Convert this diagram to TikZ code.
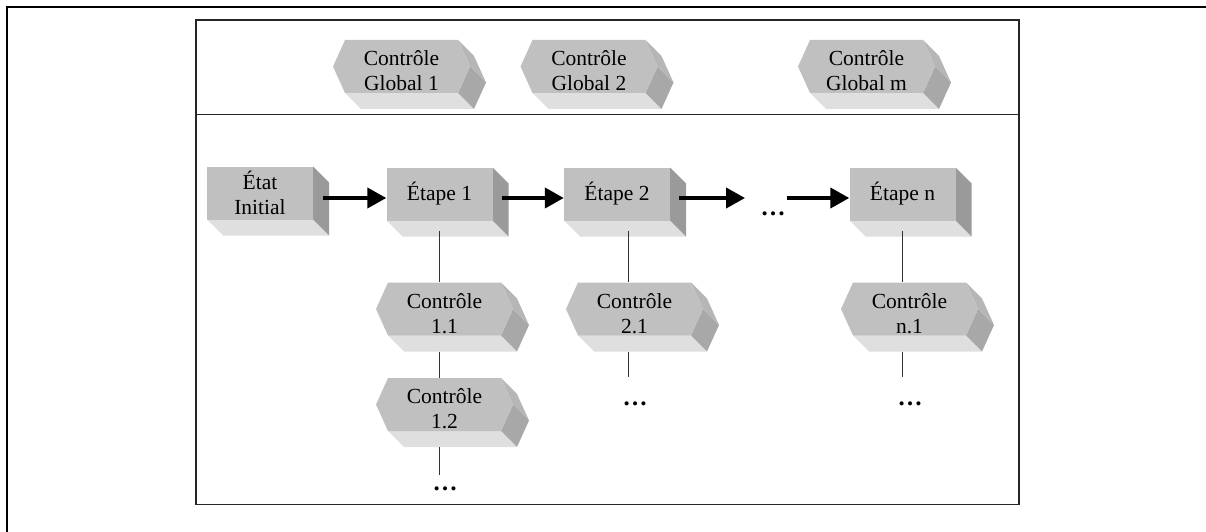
\documentclass[tikz,border=0pt]{standalone}
\usepackage{fontspec}
\setmainfont{Liberation Serif}
\usetikzlibrary{arrows.meta,calc}
\definecolor{frontgray}{HTML}{C0C0C0}
\definecolor{bottomgray}{HTML}{DFDFDF}
\definecolor{sidegray}{HTML}{9A9A9A}
\definecolor{uppergray}{HTML}{B6B6B6}
\definecolor{lowergray}{HTML}{A8A8A8}
\def\depthx{16}
\def\depthy{16}
\def\boxw{53}
\def\boxh{26.5}
\def\hexw{68.5}
\def\hexh{26.5}
\def\hext{12}
\tikzstyle{labelfont}=[font=\fontsize{21.5}{25}\selectfont]
\tikzstyle{boxfront}=[rectangle, labelfont, align=center, inner sep=0pt,
fill=frontgray, minimum width=2*\boxw pt, minimum height=2*\boxh pt]
\tikzstyle{hexfront}=[rectangle, labelfont, align=center, inner sep=0pt,
minimum width=2*\hexw pt, minimum height=2*\hexh pt]
\tikzstyle{link}=[line width=1pt, draw=black!80]
\tikzstyle{flow}=[line width=4pt, -{Triangle[length=19pt,width=20pt]}]
\tikzstyle{dotsnode}=[font=\fontsize{25}{28}\selectfont\bfseries, anchor=base,
inner sep=0pt, text height=15pt]

% box with its bottom and right faces
\newcommand{\boxprism}[4]{%
	\begin{scope}[shift={(#2,#3)}]
	\fill[bottomgray] (-\boxw,\boxh) -- (\boxw,\boxh) -- ++(\depthx,\depthy)
		-- (-\boxw+\depthx,\boxh+\depthy) -- cycle;
	\fill[sidegray] (\boxw,-\boxh) -- (\boxw,\boxh) -- ++(\depthx,\depthy)
		-- (\boxw+\depthx,-\boxh+\depthy) -- cycle;
	\end{scope}
	\node[boxfront] (#1) at (#2,#3) {#4};
}
% hexagonal prism
\newcommand{\hexprism}[4]{%
	\begin{scope}[shift={(#2,#3)}]
	\fill[bottomgray] (-\hexw+\hext,\hexh) -- (\hexw-\hext,\hexh) -- ++(\depthx,\depthy)
		-- (-\hexw+\hext+\depthx,\hexh+\depthy) -- cycle;
	\fill[lowergray] (\hexw,0) -- (\hexw-\hext,\hexh) -- ++(\depthx,\depthy)
		-- (\hexw+\depthx,\depthy) -- cycle;
	\fill[uppergray] (\hexw-\hext,-\hexh) -- (\hexw,0) -- ++(\depthx,\depthy)
		-- (\hexw-\hext+\depthx,-\hexh+\depthy) -- cycle;
	\fill[frontgray] (-\hexw,0) -- (-\hexw+\hext,-\hexh) -- (\hexw-\hext,-\hexh)
		-- (\hexw,0) -- (\hexw-\hext,\hexh) -- (-\hexw+\hext,\hexh) -- cycle;
	\end{scope}
	\node[hexfront] (#1) at (#2,#3) {\rule{0pt}{24pt}#4};
}

\begin{document}
\begin{tikzpicture}[x=1pt,y=-1pt]
\useasboundingbox (0,0) rectangle (1206,532);

% Frames
\draw[line width=2pt] (7,532) -- (7,7) -- (1206,7);
\draw[line width=1.3pt, black!85] (196,20) rectangle (1019,504.5);
\draw[line width=1.3pt, black!85] (196,114.5) -- (1019,114.5);

% Global controls
\hexprism{glob1}{401.5}{66.5}{Contrôle\\Global 1}
\hexprism{glob2}{589}{66.5}{Contrôle\\Global 2}
\hexprism{globm}{866.5}{66.5}{Contrôle\\Global m}

% Steps
\boxprism{init}{260}{193}{État\\Initial}
\boxprism{step1}{439.5}{194}{Étape 1}
\boxprism{step2}{617}{194}{Étape 2}
\boxprism{stepn}{902.5}{194}{Étape n}

% Controls of each step
\hexprism{c11}{444.5}{309}{Contrôle\\1.1}
\hexprism{c12}{444.5}{404.5}{Contrôle\\1.2}
\hexprism{c21}{634.5}{309}{Contrôle\\2.1}
\hexprism{cn1}{909.5}{309}{Contrôle\\n.1}

\node[dotsnode] (dotsrow) at (773,215) {…};
\node[dotsnode] (dots12) at (445,490) {…};
\node[dotsnode] (dots21) at (635,405) {…};
\node[dotsnode] (dotsn1) at (910,405) {…};

% Flow arrows
\coordinate (gap1) at (745,198);
\coordinate (gap2) at (787,198);
\draw[flow] ([shift={(10,5)}]init.east) -- ([shift={(0,4)}]step1.west);
\draw[flow] ([shift={(9,4)}]step1.east) -- ([shift={(0,4)}]step2.west);
\draw[flow] ([shift={(9,4)}]step2.east) -- (gap1);
\draw[flow] (gap2) -- ([shift={(0,4)}]stepn.west);

% Column 1
\draw[link] ([yshift=-10pt]step1.south) -- (step1.south |- c11.north);
\draw[link] ($(step1.south |- c11.south)+(0,\depthy)$) -- (step1.south |- c12.north);
\draw[link] ($(step1.south |- c12.south)+(0,\depthy)$) -- (step1.south |- dots12.north);

% Column 2
\draw[link] ([shift={(11,10)}]step2.south) -- ([xshift=11pt]step2.south |- c21.north);
\draw[link, shorten >=13pt] ($([xshift=11pt]step2.south |- c21.south)+(0,\depthy)$)
	-- ([xshift=11pt]step2.south |- dots21.north);

% Column n
\draw[link] ([yshift=-10pt]stepn.south) -- (stepn.south |- cn1.north);
\draw[link, shorten >=13pt] ($(stepn.south |- cn1.south)+(0,\depthy)$)
	-- (stepn.south |- dotsn1.north);

\end{tikzpicture}
\end{document}
